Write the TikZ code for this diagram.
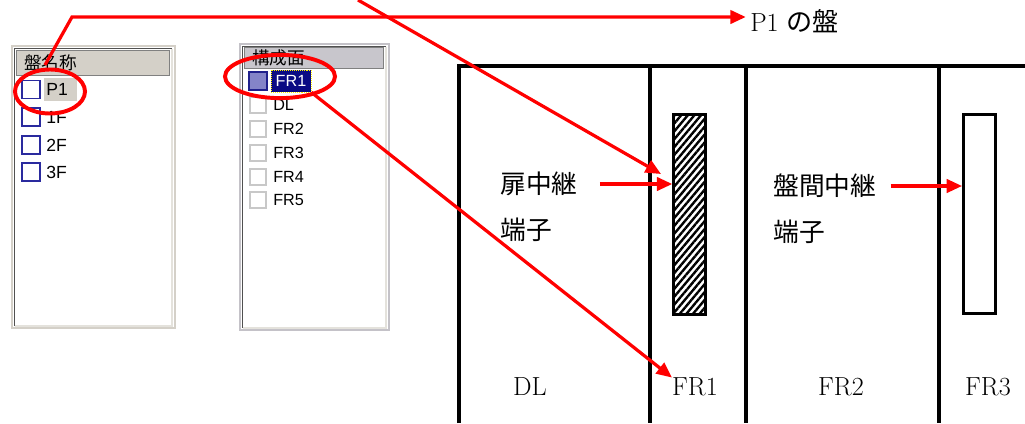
\documentclass[tikz,border=0pt]{standalone}
\usepackage{fontspec}
\newfontfamily\jp{Noto Sans CJK JP}
\newfontfamily\ui{Liberation Sans}
\usepackage{tikz}
\usetikzlibrary{positioning, arrows.meta, shapes.geometric, patterns.meta}

\definecolor{panelA}{HTML}{D4D0C8}
\definecolor{panelB}{HTML}{C4C2C8}
\definecolor{hdrB}{HTML}{C8C6CC}
\definecolor{dkgray}{HTML}{505050}
\definecolor{ltline}{HTML}{E4E2DC}
\definecolor{boxgray}{HTML}{C8C8C8}
\definecolor{cbblue}{HTML}{2A2A9E}
\definecolor{cbfill}{HTML}{8484C8}
\definecolor{cbdark}{HTML}{20208C}
\definecolor{selnavy}{HTML}{0A0A84}

\begin{document}
\begin{tikzpicture}[x=0.025cm, y=-0.025cm, >={Triangle[length=11pt, width=9.5pt]},
    redline/.style={draw=red, line width=2.3pt},
    redring/.style={draw=red, line width=2.8pt, ellipse, inner sep=0pt},
    wall/.style={line width=2.8pt},
    lbl/.style={font=\fontsize{18.6}{22}\selectfont, inner sep=0pt},
    jlbl/.style={font=\jp\fontsize{18.3}{22}\selectfont, inner sep=0pt, anchor=west},
    itemA/.style={font=\ui\fontsize{12.5}{14}\selectfont, inner sep=0pt, anchor=west},
    itemB/.style={font=\ui\fontsize{11.5}{13}\selectfont, inner sep=0pt, anchor=west},
    hdr/.style={font=\jp\fontsize{12.5}{14}\selectfont, inner sep=0pt, anchor=west}]
    \useasboundingbox (0,0) rectangle (1025,423);

    % list of panels
    \filldraw[fill=white, draw=panelA, line width=1.5pt] (12,46) rectangle (175,328);
    \draw[dkgray, line width=1.2pt] (14.5,326) -- (14.5,48.5) -- (172,48.5);
    \draw[ltline, line width=0.8pt] (172,48.5) -- (172,326) -- (14.5,326);
    \filldraw[fill=panelA, draw=gray] (16,50) rectangle (169,75);
    \node [hdr] (hA) at (24,63) {盤名称};
    \fill[panelA] (44,78) rectangle (77,101);
    \foreach \y/\t [count=\i] in {89.5/P1, 117/1F, 145/2F, 172/3F} {
        \draw[cbblue, line width=1pt] (22,\y-9) rectangle (40,\y+9);
        \node [itemA] (a\i) at (46,\y) {\t};
    }

    % list of faces
    \filldraw[fill=white, draw=panelB, line width=1.5pt] (240,44) rectangle (389,330);
    \draw[dkgray, line width=1.2pt] (242.5,328) -- (242.5,46.5) -- (386,46.5);
    \draw[ltline, line width=0.8pt] (386,46.5) -- (386,328) -- (242.5,328);
    \filldraw[fill=hdrB, draw=gray] (244,47) rectangle (383,68);
    \node [hdr] (hB) at (252,58) {構成面};
    \foreach \y/\t [count=\i] in {105/DL, 129/FR2, 153/FR3, 177/FR4, 200/FR5} {
        \draw[boxgray, line width=0.8pt] (250,\y-8) rectangle (266,\y+8);
        \node [itemB] (b\i) at (273,\y) {\t};
    }
    \filldraw[fill=cbfill, draw=cbdark, line width=1pt] (249,72) rectangle (267,90);
    \node [itemB, anchor=center, fill=selnavy, text=white, draw=yellow, densely dotted,
        minimum width=1cm, minimum height=0.55cm] (sel) at (291,81) {FR1};

    % panel front
    \draw[wall] (459,423) -- (459,66) -- (1025,66);
    \foreach \x in {650, 746, 939}
        \draw[wall] (\x,66) -- (\x,423);
    \node [draw, line width=2pt, inner sep=0pt, minimum width=0.8cm, minimum height=5cm,
        pattern={Lines[angle=50, distance=3.6pt, line width=1.7pt]}] (hatch) at (689.5,214.5) {};
    \node [draw, line width=2pt, inner sep=0pt, fill=white, minimum width=0.8cm,
        minimum height=4.98cm] (term) at (979.5,214) {};

    \node [jlbl] (tobi) at (500,184) {扉中継};
    \node [jlbl, below=0.53cm of tobi.south west, anchor=north west] (tanA) {端子};
    \node [jlbl] (bankan) at (773,186) {盤間中継};
    \node [jlbl, below=0.53cm of bankan.south west, anchor=north west] (tanB) {端子};
    \node [lbl] (ldl) at (530,387) {DL};
    \node [lbl] (lfa) at (695,387) {FR1};
    \node [lbl] (lfb) at (841,387) {FR2};
    \node [lbl] (lfc) at (988,387) {FR3};
    \node [lbl, anchor=west] (pone) at (750,21) {P1 {\jp の盤}};

    % red marks
    \node [redring, minimum width=1.75cm, minimum height=1.1cm] (ringA) at (50,91.5) {};
    \node [redring, minimum width=2.75cm, minimum height=1.08cm] (ringB) at (280,76.5) {};
    \coordinate (pa) at (45,65);
    \coordinate (bend) at (72,17);
    \coordinate (ptop) at (358,0);
    \coordinate (pb) at (661,174);
    \draw [redline, ->] (pa) -- (bend) -- ([xshift=-3pt]bend -| pone.west);
    \draw [redline, ->] (ptop) -- (pb);
    \draw [redline, ->] (sel.south east) -- (lfa.north west);
    \draw [redline, ->] ([xshift=0.55cm]tobi.east) -- (tobi.east -| hatch.west);
    \draw [redline, ->] ([xshift=0.35cm]bankan.east) -- (bankan.east -| term.west);
\end{tikzpicture}
\end{document}
